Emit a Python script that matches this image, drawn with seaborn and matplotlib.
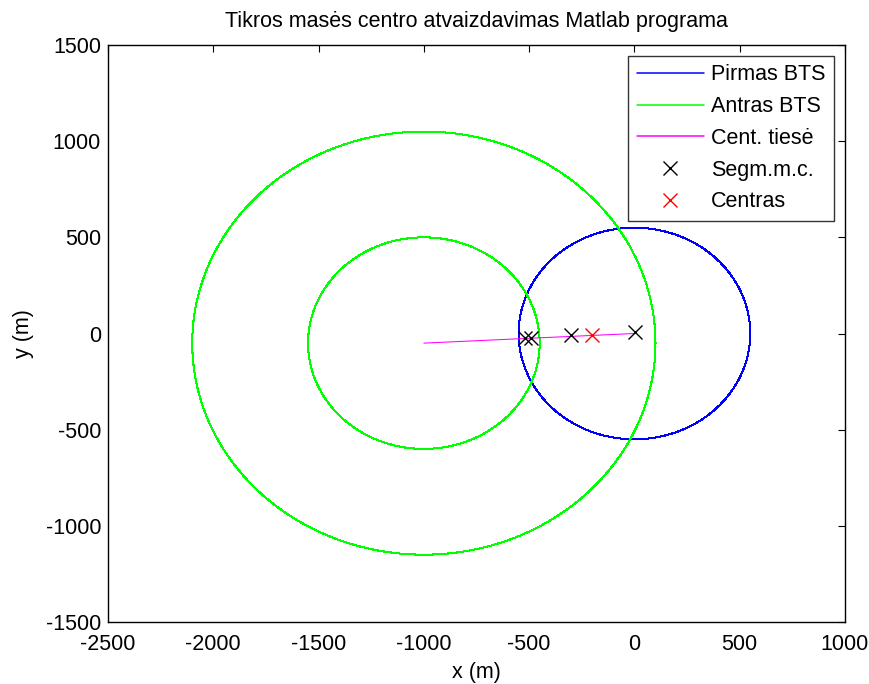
import numpy as np
import pandas as pd
import matplotlib
matplotlib.use("Agg")
import matplotlib.pyplot as plt
import seaborn as sns

# Base stations: centres (m) and coverage radii (m)
bts1_center = (0.0, 0.0)
bts1_radii = [550.0]
bts2_center = (-1000.0, -50.0)
bts2_radii = [550.0, 1100.0]

# Segment mass centres and the resulting centre
segm_x = [-520.0, -490.0, -300.0, 5.0]
segm_y = [-25.0, -25.0, -8.0, 8.0]
centre_x = [-200.0]
centre_y = [-8.0]

sns.set_theme(style="white")
plt.rcParams["font.family"] = ["Liberation Sans", "DejaVu Sans"]
plt.rcParams["font.size"] = 15.5
plt.rcParams["axes.unicode_minus"] = False
plt.rcParams["text.color"] = "black"
plt.rcParams["axes.labelcolor"] = "black"

FS = 15.5
LW = 0.75

fig = plt.figure(figsize=(8.7, 6.84), dpi=100)
ax = fig.add_axes([108 / 870, 1 - 622 / 684, (845 - 108) / 870, (622 - 45) / 684])


def ring(center, r, n=720):
    t = np.linspace(0, 2 * np.pi, n)
    return pd.DataFrame({"x": center[0] + r * np.cos(t),
                         "y": center[1] + r * np.sin(t)})


first = True
for r in bts1_radii:
    d = ring(bts1_center, r)
    sns.lineplot(data=d, x="x", y="y", sort=False, estimator=None, ax=ax,
                 color="#0000ff", linewidth=LW, antialiased=False,
                 label="Pirmas BTS" if first else None)
    first = False

first = True
for r in bts2_radii:
    d = ring(bts2_center, r)
    sns.lineplot(data=d, x="x", y="y", sort=False, estimator=None, ax=ax,
                 color="#00ff00", linewidth=LW, antialiased=False,
                 label="Antras BTS" if first else None)
    first = False

# Line joining the two station centres
cl = pd.DataFrame({"x": [bts2_center[0], bts1_center[0]],
                   "y": [bts2_center[1], bts1_center[1]]})
sns.lineplot(data=cl, x="x", y="y", sort=False, estimator=None, ax=ax,
             color="#ff00ff", linewidth=LW, label="Cent. tiesė")

ax.plot(segm_x, segm_y, linestyle="none", marker="x", markersize=10,
        markeredgewidth=1, color="black", label="Segm.m.c.")
ax.plot(centre_x, centre_y, linestyle="none", marker="x", markersize=10,
        markeredgewidth=1, color="red", label="Centras")

ax.set_xlim(-2500, 1000)
ax.set_ylim(-1500, 1500)
ax.set_xticks(np.arange(-2500, 1001, 500))
ax.set_yticks(np.arange(-1500, 1501, 500))
ax.tick_params(direction="in", length=5, width=0.8, top=True, right=True,
               labelsize=FS, colors="black")
ax.tick_params(axis="x", pad=9)
ax.tick_params(axis="y", pad=5)
for s in ax.spines.values():
    s.set_color("black")
    s.set_linewidth(1)

ax.set_xlabel("x (m)", fontsize=FS, labelpad=5, color="black")
ax.set_ylabel("y (m)", fontsize=FS, labelpad=8, color="black")
ax.set_title("Tikros masės centro atvaizdavimas Matlab programa",
             fontsize=FS, pad=13, color="black")

leg = ax.legend(loc="upper right", fontsize=FS, frameon=True, fancybox=False,
                edgecolor="black", handlelength=3.1, labelspacing=0.5,
                borderpad=0.4, handletextpad=0.35, borderaxespad=0.5)
leg.get_frame().set_linewidth(1)
for t in leg.get_texts():
    t.set_color("black")
for h, c in zip(leg.get_lines()[:3], ["#0000ff", "#00ff00", "#ff00ff"]):
    h.set_antialiased(True)
    h.set_color(c)
    h.set_linewidth(1.1)

fig.savefig("out.png", dpi=100)
